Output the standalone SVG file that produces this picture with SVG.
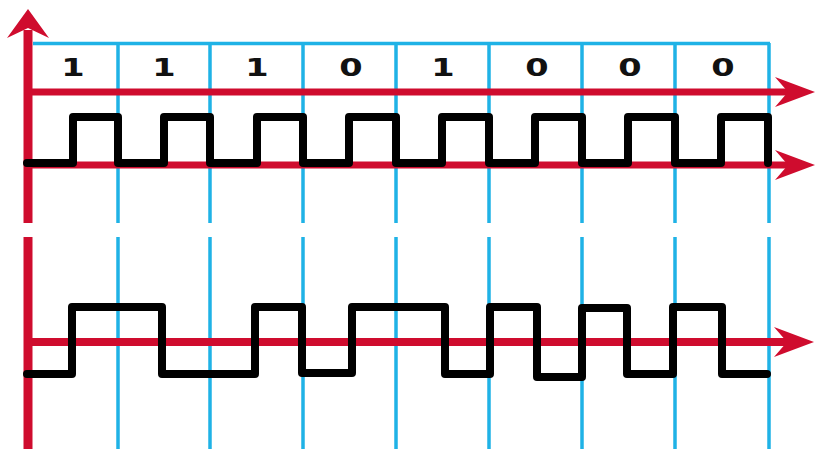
<svg xmlns="http://www.w3.org/2000/svg" width="815" height="449" viewBox="0 0 815 449">
<style>
.grid{stroke:#1fb2e6;stroke-width:3.5;fill:none}
.axis{stroke:#cf0c2e;fill:none}
.head{fill:#cf0c2e}
.sig{stroke:#000;stroke-width:8;fill:none;stroke-linejoin:round;stroke-linecap:round}
.bit{font-family:"DejaVu Sans",sans-serif;font-weight:bold;font-size:24px;fill:#111;text-anchor:middle}
</style>
<defs>
<path id="ahR" d="M0,0 L-40,-15 L-27,0 L-40,15 Z"/>
</defs>
<rect width="815" height="449" fill="#fff"/>
<g id="grid">
<path class="grid" d="M33,43.5 H770"/>
<path class="grid" d="M118,43 V223 M210,43 V223 M303,43 V223 M396,43 V223 M489,43 V223 M582,43 V223 M675,43 V223 M769,43 V223"/>
<path class="grid" d="M118,237 V449 M210,237 V449 M303,237 V449 M396,237 V449 M489,237 V449 M582,237 V449 M675,237 V449 M769,237 V449"/>
</g>
<g id="axes">
<path class="axis" stroke-width="9" d="M28,30 V223 M28,237 V449"/>
<path class="head" d="M28,9 L49,38 L28,28 L7,38 Z"/>
<path class="axis" stroke-width="7" d="M28,92 H790 M28,165 H790"/>
<path class="axis" stroke-width="8" d="M28,342 H790"/>
<use href="#ahR" class="head" x="815" y="92"/>
<use href="#ahR" class="head" x="815" y="165"/>
<use href="#ahR" class="head" x="814" y="342"/>
</g>
<g id="bits">
<text class="bit" transform="translate(73,76) scale(1.4,1)">1</text>
<text class="bit" transform="translate(164,76) scale(1.4,1)">1</text>
<text class="bit" transform="translate(257,76) scale(1.4,1)">1</text>
<text class="bit" transform="translate(351,76) scale(1.4,1)">0</text>
<text class="bit" transform="translate(443,76) scale(1.4,1)">1</text>
<text class="bit" transform="translate(537,76) scale(1.4,1)">0</text>
<text class="bit" transform="translate(630,76) scale(1.4,1)">0</text>
<text class="bit" transform="translate(723,76) scale(1.4,1)">0</text>
</g>
<g id="clock">
<path class="sig" d="M27,163 H73 V117 H118 V163 H164 V117 H210 V163 H257 V117 H303 V163 H349 V117 H396 V163 H442 V117 H489 V163 H535 V117 H582 V163 H628 V117 H675 V163 H721 V117 H768 V163"/>
</g>
<g id="encoded">
<path class="sig" d="M27,374 H72 V307 H162 V374 H255 V307 H302 V373 H352 V307 H445 V374 H490 V307 H537 V377 H582 V308 H627 V374 H673 V307 H722 V374 H767"/>
</g>
</svg>
